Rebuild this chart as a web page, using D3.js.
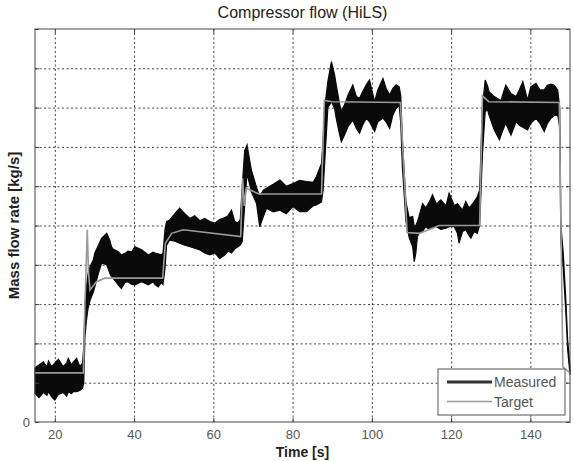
<!DOCTYPE html>
<html>
<head>
<meta charset="utf-8">
<script src="https://cdn.jsdelivr.net/npm/d3@7"></script>
<style>
  body { margin: 0; background: #fff; }
  text { font-family: "Liberation Sans", Arial, sans-serif; }
</style>
</head>
<body>
<div class="chart"></div>
<script>
// measured flow: noisy band, read as upper / lower envelope
var measT  = [15.0,16.0,17.1,18.0,18.4,19.2,20.0,20.9,22.1,23.0,23.4,24.2,24.7,25.5,26.3,27.0,
  27.3,27.6,28.0,28.4,28.9,29.7,30.1,31.0,31.8,33.1,33.9,34.3,34.7,36.0,36.8,37.7,38.5,39.4,40.2,41.9,43.6,44.8,45.3,46.1,46.9,
  47.3,47.8,48.2,49.0,50.3,51.5,52.8,54.1,55.3,56.6,57.8,59.1,60.4,61.6,62.9,63.7,64.6,65.4,66.2,66.8,
  67.3,67.9,68.5,69.6,70.9,71.7,72.6,73.4,75.1,76.8,78.4,80.1,81.8,83.5,85.2,86.0,87.3,
  87.7,88.1,88.9,89.8,90.6,91.0,91.9,92.3,93.1,94.0,95.2,96.1,96.9,97.7,98.6,99.4,100.7,101.5,102.8,103.6,104.5,105.3,106.1,106.9,
  107.3,107.7,108.6,109.4,110.3,110.7,111.1,111.5,111.9,112.8,113.6,114.5,115.3,116.3,117.4,118.7,119.5,120.8,121.6,122.0,122.9,123.7,124.5,125.0,125.8,126.6,127.2,
  127.9,128.6,129.2,129.6,130.9,132.2,132.6,133.4,133.8,135.1,136.4,137.2,138.1,139.3,140.1,141.4,142.4,143.5,144.3,145.2,146.0,146.9,
  147.4,147.7,148.3,149.0,149.4,150.0];
var measHi = [1.38,1.45,1.53,1.40,1.55,1.41,1.50,1.60,1.41,1.50,1.62,1.45,1.53,1.62,1.41,1.50,
  1.90,3.00,3.44,3.78,3.95,4.12,4.30,4.50,4.67,4.80,4.62,4.46,4.40,4.33,4.25,4.29,4.35,4.33,4.46,4.38,4.25,4.32,4.30,4.28,4.25,
  4.30,4.90,5.10,5.14,5.30,5.44,5.30,5.18,5.25,5.12,5.18,5.10,5.06,5.15,5.20,5.25,5.39,5.10,5.06,5.15,
  6.00,6.90,7.05,6.41,5.97,5.73,5.90,5.95,6.05,6.16,6.00,6.07,6.15,6.12,6.10,6.24,6.58,
  7.20,8.00,8.66,9.17,8.83,8.58,8.07,7.90,8.07,8.32,8.58,8.28,8.24,8.41,8.58,8.70,8.15,8.45,8.74,8.49,8.32,8.49,8.58,8.53,
  8.30,7.20,5.60,5.20,5.23,4.97,5.00,5.10,5.23,5.56,5.45,5.60,5.78,5.55,5.65,5.50,5.82,5.50,5.56,5.50,5.40,5.61,5.45,5.50,5.60,5.73,5.90,
  8.00,8.70,8.55,8.40,8.28,8.20,8.19,8.45,8.57,8.36,8.28,8.45,8.66,8.19,8.53,8.62,8.45,8.45,8.57,8.60,8.57,8.45,
  8.00,5.00,4.30,3.00,2.10,1.40];
var measLo = [0.73,0.62,0.75,0.68,0.77,0.64,0.56,0.70,0.75,0.66,0.77,0.72,0.78,0.77,0.80,0.86,
  1.00,2.17,2.60,2.90,3.10,3.30,3.44,3.78,4.04,4.00,3.78,3.70,3.66,3.49,3.40,3.55,3.57,3.50,3.49,3.57,3.49,3.57,3.50,3.44,3.55,
  3.50,3.90,4.50,4.63,4.60,4.55,4.50,4.46,4.42,4.38,4.30,4.25,4.30,4.16,4.25,4.35,4.30,4.40,4.46,4.50,
  4.60,5.50,6.33,5.86,5.56,4.97,5.22,5.44,5.35,5.39,5.30,5.48,5.35,5.35,5.50,5.52,5.60,
  5.90,6.60,8.00,8.15,7.98,7.73,7.30,7.13,7.30,7.52,7.68,7.47,7.35,7.56,7.73,7.64,7.39,7.64,7.73,7.64,7.47,7.81,7.98,8.05,
  7.60,6.50,5.10,4.70,4.46,4.08,4.30,4.72,4.80,4.85,4.97,4.90,4.95,4.97,4.90,4.93,4.97,4.97,4.80,4.55,4.85,4.89,4.75,4.68,4.85,4.80,5.00,
  6.80,7.90,7.94,7.80,7.43,7.18,7.30,7.51,7.60,7.30,7.64,7.55,7.50,7.43,7.60,7.73,7.60,7.39,7.60,7.73,7.80,7.81,
  7.50,4.60,3.90,2.70,1.85,1.20];

// target flow
var targetT = [15,27.2,27.6,28.2,28.5,28.9,30.5,32.6,47.2,47.9,49.5,52.4,66.9,67.4,67.8,68.3,71.5,87.3,88.0,90.0,
  107.2,108.9,112.0,117.0,127.2,127.9,129.5,147.3,148.2,150];
var targetV = [1.25,1.25,3.02,4.89,3.80,3.36,3.57,3.66,3.66,4.55,4.80,4.89,4.72,6.20,5.50,5.95,5.80,5.80,8.18,8.15,
  8.13,4.82,4.80,5.00,5.00,8.30,8.15,8.13,1.40,1.25];

var xTicks = [20, 40, 60, 80, 100, 120, 140];
var yTicks = [0, 1, 2, 3, 4, 5, 6, 7, 8, 9, 10];
var yTickLabels = ["0", "", "", "", "", "", "", "", "", "", ""];
var seriesNames = ["Measured", "Target"];

var W = 574, H = 461;
var pLeft = 35, pRight = 570, pTop = 29, pBottom = 422;

var svg = d3.select(".chart").append("svg")
  .attr("width", W).attr("height", H);

var x = d3.scaleLinear().domain([15, 150]).range([pLeft, pRight]);
var y = d3.scaleLinear().domain([0, 10]).range([pBottom, pTop]);

// dotted grid
svg.append("g")
  .attr("transform", `translate(0,${pBottom})`)
  .call(d3.axisBottom(x).tickValues(xTicks).tickSize(-(pBottom - pTop)).tickFormat(""))
  .call(g => {
    g.select(".domain").remove();
    g.selectAll("line").attr("stroke", "#444").attr("stroke-dasharray", "2,2.5");
  });
svg.append("g")
  .attr("transform", `translate(${pLeft},0)`)
  .call(d3.axisLeft(y).tickValues(yTicks.slice(1, -1)).tickSize(-(pRight - pLeft)).tickFormat(""))
  .call(g => {
    g.select(".domain").remove();
    g.selectAll("line").attr("stroke", "#444").attr("stroke-dasharray", "2,2.5");
  });

var rows = measT.map((t, i) => ({t: t, hi: measHi[i], lo: measLo[i]}));
var area = d3.area()
  .x(d => x(d.t))
  .y0(d => y(d.lo))
  .y1(d => y(d.hi));
svg.append("path")
  .datum(rows)
  .attr("d", area)
  .attr("fill", "#0a0a0a")
  .attr("stroke", "#0a0a0a")
  .attr("stroke-width", 1.2)
  .attr("stroke-linejoin", "miter");

var line = d3.line().x(d => x(d[0])).y(d => y(d[1]));
svg.append("path")
  .datum(targetT.map((t, i) => [t, targetV[i]]))
  .attr("d", line)
  .attr("fill", "none")
  .attr("stroke", "#9a9a9a")
  .attr("stroke-width", 1.6);

// box and inner ticks
svg.append("rect")
  .attr("x", pLeft).attr("y", pTop)
  .attr("width", pRight - pLeft).attr("height", pBottom - pTop)
  .attr("fill", "none").attr("stroke", "#444").attr("stroke-width", 1);

function styleAxis(g) {
  g.select(".domain").remove();
  g.selectAll("line").attr("stroke", "#444");
  g.selectAll("text").attr("fill", "#555").style("font-size", "13px");
}
svg.append("g").attr("transform", `translate(0,${pBottom})`)
  .call(d3.axisBottom(x).tickValues(xTicks).tickSize(-4).tickPadding(8)).call(styleAxis);
svg.append("g").attr("transform", `translate(0,${pTop})`)
  .call(d3.axisTop(x).tickValues(xTicks).tickSize(-4).tickFormat("")).call(styleAxis);
svg.append("g").attr("transform", `translate(${pLeft},0)`)
  .call(d3.axisLeft(y).tickValues(yTicks).tickSize(-4).tickPadding(5).tickFormat((d, i) => yTickLabels[i])).call(styleAxis);
svg.append("g").attr("transform", `translate(${pRight},0)`)
  .call(d3.axisRight(y).tickValues(yTicks).tickSize(-4).tickFormat("")).call(styleAxis);

// titles
svg.append("text")
  .attr("x", (pLeft + pRight) / 2).attr("y", 18)
  .attr("text-anchor", "middle")
  .attr("fill", "#222")
  .style("font-size", "16px")
  .text("Compressor flow (HiLS)");
svg.append("text")
  .attr("x", (pLeft + pRight) / 2).attr("y", 457)
  .attr("text-anchor", "middle")
  .attr("fill", "#222")
  .style("font-size", "14px").style("font-weight", "bold")
  .text("Time [s]");
svg.append("text")
  .attr("transform", `translate(19,${(pTop + pBottom) / 2}) rotate(-90)`)
  .attr("text-anchor", "middle")
  .attr("fill", "#222")
  .style("font-size", "15px").style("font-weight", "bold")
  .text("Mass flow rate [kg/s]");

// legend
var lg = svg.append("g").attr("transform", "translate(438,369)");
lg.append("rect").attr("width", 127).attr("height", 46)
  .attr("fill", "#fff").attr("stroke", "#555");
var legendColor = ["#333", "#999"];
var legendWidth = [3, 1.5];
var item = lg.selectAll(".legend").data(seriesNames).enter().append("g")
  .attr("transform", (d, i) => `translate(0,${13 + i * 19.5})`);
item.append("line").attr("x1", 9).attr("x2", 54)
  .attr("stroke", (d, i) => legendColor[i]).attr("stroke-width", (d, i) => legendWidth[i]);
item.append("text").attr("x", 56).attr("y", 5)
  .attr("fill", "#555").style("font-size", "14px")
  .text(d => d);
</script>
</body>
</html>
